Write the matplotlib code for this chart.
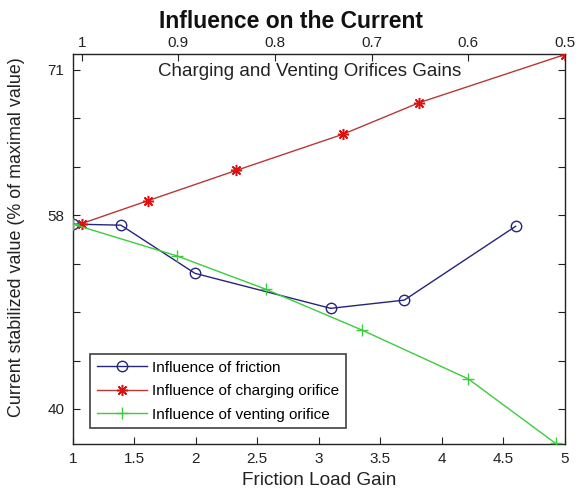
import matplotlib
matplotlib.use("Agg")
import matplotlib.pyplot as plt
import numpy as np

plt.rcParams['font.family'] = ['Liberation Sans', 'DejaVu Sans']

# ---- data ----
friction_x = [1.0, 1.392, 1.993, 3.096, 3.694, 4.599]
friction_y = [56.9, 56.8, 52.4, 49.2, 49.95, 56.7]

charging_x = [1.073, 1.614, 2.327, 3.193, 3.816, 5.0]
charging_y = [56.95, 59.05, 61.8, 65.1, 68.0, 72.4]

venting_x = [1.0, 1.845, 2.568, 3.353, 4.214, 4.924]
venting_y = [56.9, 54.0, 50.95, 47.2, 42.75, 36.85]

bottom_ticks = [1, 1.5, 2, 2.5, 3, 3.5, 4, 4.5, 5]
bottom_labels = ['1', '1.5', '2', '2.5', '3', '3.5', '4', '4.5', '5']
top_ticks = [1.0, 0.9, 0.8, 0.7, 0.6, 0.5]
top_labels = ['1', '0.9', '0.8', '0.7', '0.6', '0.5']
y_ticks = list(np.linspace(40, 71, 8))
y_labels = ['40', '', '', '', '58', '', '', '71']

legend_labels = ['Influence of friction', 'Influence of charging orifice',
                 'Influence of venting orifice']

# ---- figure ----
fig = plt.figure(figsize=(5.82, 4.92), dpi=100)
ax = fig.add_axes([0.1249, 0.0976, 0.8459, 0.7927])

blue = '#25257d'
red_line = '#b83838'
red_mk = '#e01010'
green = '#3ccc3c'

ax.plot(friction_x, friction_y, '-', color=blue, lw=1.0, marker='o',
        markersize=7.5, markerfacecolor='none', markeredgecolor=blue,
        markeredgewidth=1.0, label=legend_labels[0], zorder=3)
ax.plot(charging_x, charging_y, '-', color=red_line, lw=1.0, marker=(8, 2, 0),
        markersize=8, markerfacecolor=red_mk, markeredgecolor=red_mk,
        markeredgewidth=1.1, label=legend_labels[1], zorder=3)
ax.plot(venting_x, venting_y, '-', color=green, lw=1.0, marker='+',
        markersize=9, markeredgecolor=green, markeredgewidth=1.0,
        label=legend_labels[2], zorder=3)

ax.set_xlim(1, 5)
ax.set_ylim(36.8, 72.45)
ax.set_xticks(bottom_ticks, bottom_labels)
ax.set_yticks(y_ticks, y_labels)
ax.tick_params(direction='in', top=True, right=True, length=5,
               labelsize=11, colors='#222222', pad=6)
for s in ax.spines.values():
    s.set_color('#222222')
    s.set_linewidth(1.0)

ax.set_xlabel('Friction Load Gain', fontsize=13.7, color='#222222', labelpad=4)
ax.set_ylabel('Current stabilized value (% of maximal value)', fontsize=12.9,
              color='#222222')
ax.yaxis.set_label_coords(-0.097, 0.531)

# top axis
ax2 = ax.twiny()
ax2.set_xlim(1.0093, 0.5)
ax2.set_xticks(top_ticks, top_labels)
ax2.tick_params(direction='in', length=5, labelsize=11, colors='#222222', pad=3)
for s in ax2.spines.values():
    s.set_visible(False)

ax.text(0.482, 0.954, 'Charging and Venting Orifices Gains', transform=ax.transAxes,
        ha='center', va='center', fontsize=13.5, color='#222222')

fig.text(0.5, 0.957, 'Influence on the Current', ha='center', va='center',
         fontsize=16.5, fontweight='bold', color='#111111')

leg = ax.legend(loc='lower left', bbox_to_anchor=(0.035, 0.04), fontsize=11,
                frameon=True, fancybox=False, edgecolor='#111111',
                handlelength=3.3, handletextpad=0.3, borderpad=0.45,
                labelspacing=0.62, borderaxespad=0)
leg.get_frame().set_linewidth(1.2)

fig.savefig('out.png', dpi=100)
